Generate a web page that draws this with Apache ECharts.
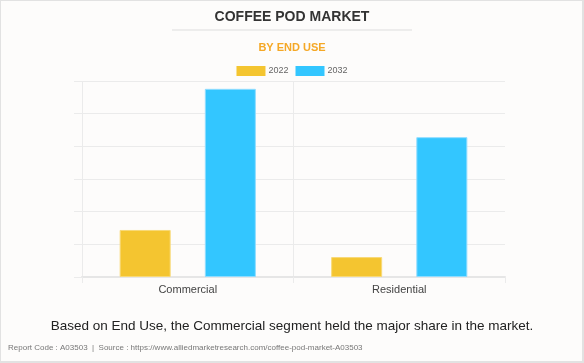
<!DOCTYPE html>
<html>
<head>
<meta charset="utf-8">
<script src="https://cdn.jsdelivr.net/npm/echarts@6/dist/echarts.min.js"></script>
<style>
html,body{margin:0;padding:0;background:#fdfcfb;}
#wrap{position:relative;width:584px;height:363px;}
#c{position:absolute;left:0;top:0;width:584px;height:363px;}
#frame{position:absolute;left:0;top:0;width:584px;height:363px;box-sizing:border-box;border-left:1px solid #e2e2e2;border-top:1px solid #e2e2e2;border-right:2px solid #e2e2e2;border-bottom:2px solid #e2e2e2;pointer-events:none;}
</style>
</head>
<body>
<div id="wrap"><div id="c"></div><div id="frame"></div></div>
<script>
const categories = ['Commercial', 'Residential'];
const years = ['2022', '2032'];
const values2022 = [7.2, 3.05];
const values2032 = [28.8, 21.4];
const yMax = 30;
const yInterval = 5;

const font = 'Liberation Sans, Arial, sans-serif';
const chart = echarts.init(document.getElementById('c'), null, {renderer: 'canvas'});
chart.setOption({
  backgroundColor: '#fdfcfb',
  animation: false,
  title: [
    {text: 'COFFEE POD MARKET', left: 'center', top: 10, padding: 0,
     textStyle: {fontFamily: font, fontSize: 14, fontWeight: 'bold', color: '#333'}},
    {text: 'BY END USE', left: 'center', top: 42, padding: 0,
     textStyle: {fontFamily: font, fontSize: 11, fontWeight: 'bold', color: '#f5a826'}},
    {text: 'Based on End Use, the Commercial segment held the major share in the market.', left: 'center', top: 319, padding: 0,
     textStyle: {fontFamily: font, fontSize: 13.5, fontWeight: 'normal', color: '#222'}},
    {text: 'Report Code : A03503  |  Source : https://www.alliedmarketresearch.com/coffee-pod-market-A03503', left: 8, top: 344, padding: 0,
     textStyle: {fontFamily: font, fontSize: 8, fontWeight: 'normal', color: '#777'}}
  ],
  graphic: [
    {type: 'line', shape: {x1: 172, y1: 30, x2: 412, y2: 30}, style: {stroke: '#dddddd', lineWidth: 1}}
  ],
  legend: {
    top: 66, left: 'center', itemWidth: 29, itemHeight: 10, itemGap: 7, padding: 0,
    icon: 'rect',
    itemStyle: {borderWidth: 0},
    textStyle: {fontFamily: font, fontSize: 9, color: '#666', padding: [0, 0, 0, -2]},
    data: years
  },
  grid: {left: 82, right: 79, top: 81, bottom: 86, containLabel: false},
  xAxis: {
    type: 'category', data: categories,
    axisLine: {show: true, lineStyle: {color: '#e6e6e6', width: 2}},
    axisTick: {show: true, length: 6, lineStyle: {color: '#ebebeb'}},
    axisLabel: {fontFamily: font, fontSize: 11, color: '#444', margin: 7},
    splitLine: {show: true, showMaxLine: false, lineStyle: {color: '#ebebeb'}}
  },
  yAxis: {
    type: 'value', min: 0, max: yMax, interval: yInterval,
    axisLabel: {show: false},
    axisLine: {show: false},
    axisTick: {show: true, length: 8, lineStyle: {color: '#ebebeb'}},
    splitLine: {show: true, lineStyle: {color: '#ebebeb'}}
  },
  series: [
    {name: years[0], type: 'bar', data: values2022, barWidth: 51, barGap: '67%',
     itemStyle: {color: '#f4c530', borderColor: '#f8d977', borderWidth: 1}},
    {name: years[1], type: 'bar', data: values2032, barWidth: 51,
     itemStyle: {color: '#33c6ff', borderColor: '#8fdcff', borderWidth: 1}}
  ]
});
</script>
</body>
</html>
